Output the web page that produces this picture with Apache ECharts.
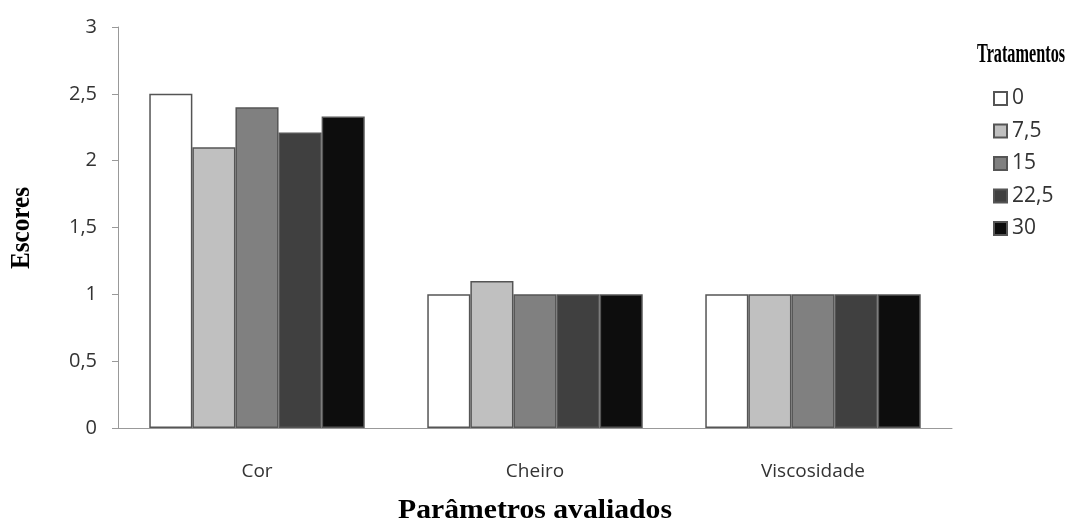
<!DOCTYPE html>
<html><head><meta charset="utf-8">
<script src="https://cdn.jsdelivr.net/npm/echarts@6/dist/echarts.min.js"></script>
<style>html,body{margin:0;padding:0;background:#fff}#c{width:1069px;height:527px}</style>
</head><body><div id="c"></div>
<script>
const categories = ['Cor', 'Cheiro', 'Viscosidade'];
const seriesNames = ['0', '7,5', '15', '22,5', '30'];
const s0 = [2.5, 1.0, 1.0];
const s75 = [2.1, 1.1, 1.0];
const s15 = [2.4, 1.0, 1.0];
const s225 = [2.21, 1.0, 1.0];
const s30 = [2.33, 1.0, 1.0];
const values = [s0, s75, s15, s225, s30];
const colors = ['#ffffff', '#c0c0c0', '#808080', '#404040', '#0d0d0d'];

const chart = echarts.init(document.getElementById('c'));
chart.setOption({
  animation: false,
  backgroundColor: '#fff',
  graphic: [
    {type: 'text', x: 977, y: 55, scaleX: 0.58,
     style: {text: 'Tratamentos', font: 'bold 28px "Liberation Serif"', fill: '#000', textAlign: 'left', textVerticalAlign: 'middle'}},
    {type: 'text', x: 535, y: 511, scaleX: 1.06,
     style: {text: 'Parâmetros avaliados', font: 'bold 28px "Liberation Serif"', fill: '#000', textAlign: 'center', textVerticalAlign: 'middle'}},
    {type: 'text', x: 22, y: 228, rotation: Math.PI / 2, scaleX: 0.9,
     style: {text: 'Escores', font: 'bold 28px "Liberation Serif"', fill: '#000', textAlign: 'center', textVerticalAlign: 'middle'}}
  ],
  legend: {
    orient: 'vertical', left: 988, top: 83, itemWidth: 13, itemHeight: 13, itemGap: 11.5,
    icon: 'rect',
    textStyle: {fontFamily: 'Open Sans', fontSize: 21, color: '#333'},
    data: seriesNames
  },
  grid: {left: 118, right: 117, top: 27, bottom: 99},
  xAxis: {
    type: 'category', data: categories,
    axisLine: {lineStyle: {color: '#999'}},
    axisTick: {length: 8, lineStyle: {color: '#999'}},
    axisLabel: {margin: 34, fontFamily: 'Open Sans', fontSize: 19, color: '#333'}
  },
  yAxis: {
    type: 'value', min: 0, max: 3, interval: 0.5,
    axisLine: {show: true, lineStyle: {color: '#999'}},
    axisTick: {show: true, length: 6, lineStyle: {color: '#999'}},
    splitLine: {show: false},
    axisLabel: {margin: 21, fontFamily: 'Open Sans', fontSize: 20, color: '#333',
      formatter: v => String(v).replace('.', ',')}
  },
  series: seriesNames.map((n, i) => ({
    name: n, type: 'bar', data: values[i],
    barGap: '0%', barCategoryGap: '22.5%',
    itemStyle: {color: colors[i], borderColor: '#555', borderWidth: 1.5}
  }))
});
</script></body></html>
